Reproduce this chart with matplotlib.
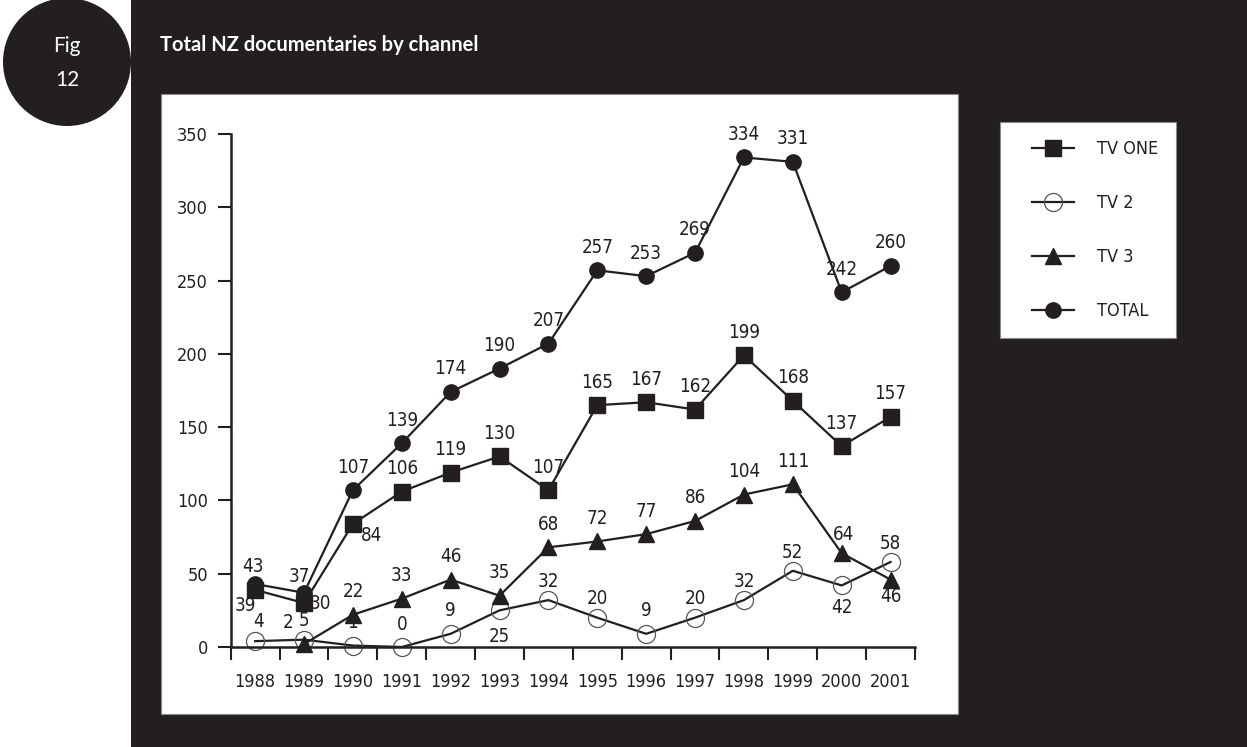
import matplotlib
matplotlib.use('Agg')
import matplotlib.pyplot as plt
from matplotlib.patches import Rectangle, Circle
import numpy as np

# Data
years = [str(y) for y in range(1988, 2002)]
tv_one = [39, 30, 84, 106, 119, 130, 107, 165, 167, 162, 199, 168, 137, 157]
tv_2 = [4, 5, 1, 0, 9, 25, 32, 20, 9, 20, 32, 52, 42, 58]
tv_3 = [np.nan, 2, 22, 33, 46, 35, 68, 72, 77, 86, 104, 111, 64, 46]
total = [43, 37, 107, 139, 174, 190, 207, 257, 253, 269, 334, 331, 242, 260]

# label offsets (pixels) that differ from the default "just above"
off_one = {0: (-10, -16), 1: (16, 0), 2: (19, -12)}
off_2 = {0: (3, 20), 1: (0, 19), 5: (0, -26), 6: (0, 19), 7: (0, 19), 9: (0, 19),
         10: (0, 19), 11: (0, 18), 12: (0, -22), 13: (0, 18)}
off_3 = {1: (-16, 22), 12: (2, 19), 13: (0, -17)}
off_total = {0: (-2, 17), 1: (-5, 16)}

DARK = '#231f20'
W, H = 1247, 747

plt.rcParams['font.family'] = ['Liberation Sans Narrow', 'DejaVu Sans']
plt.rcParams['font.stretch'] = 'condensed'

fig = plt.figure(figsize=(W / 100, H / 100), dpi=100)
fig.patch.set_facecolor('white')

def fy(y):
    return 1 - y / H

# dark page shape: strip + circle
fig.add_artist(Rectangle((131 / W, 0), 1 - 131 / W, 1, transform=fig.transFigure,
                         facecolor=DARK, edgecolor='none', zorder=-3))
fig.add_artist(Circle((0.67, (H - 62) / 100), 0.64, transform=fig.dpi_scale_trans,
                      facecolor=DARK, edgecolor='none', zorder=-3))
# white panels
fig.add_artist(Rectangle((161 / W, fy(714)), (958 - 161) / W, (714 - 94) / H,
                         transform=fig.transFigure, facecolor='white',
                         edgecolor='#8a8a8a', lw=0.8, zorder=-2))
fig.add_artist(Rectangle((1000 / W, fy(338)), 176 / W, (338 - 122) / H,
                         transform=fig.transFigure, facecolor='white',
                         edgecolor='#8a8a8a', lw=0.8, zorder=-2))

fig.text(67 / W, fy(46), 'Fig', color='white', fontsize=15, family='Lato',
         stretch='normal', ha='center', va='center')
fig.text(67 / W, fy(80), '12', color='white', fontsize=15, family='Lato',
         stretch='normal', ha='center', va='center')
fig.text(160 / W, fy(45), 'Total NZ documentaries by channel', color='white',
         fontsize=14.5, family='Lato', weight='bold', stretch='normal',
         ha='left', va='center')

ax = fig.add_axes([230.7 / W, fy(647), 684.3 / W, 513 / H])
ax.set_facecolor('none')
x = np.arange(len(years))

l1, = ax.plot(x, tv_one, marker='s', ms=11, color=DARK, lw=1.6, clip_on=False)
l2, = ax.plot(x, tv_2, marker='o', ms=13, mfc='none', mec='#555555', mew=0.9,
              color=DARK, lw=1.6, clip_on=False)
l3, = ax.plot(x, tv_3, marker='^', ms=12, color=DARK, lw=1.6, clip_on=False)
l4, = ax.plot(x, total, marker='o', ms=11, color=DARK, lw=1.6, clip_on=False)

for series, offs in [(tv_one, off_one), (tv_2, off_2), (tv_3, off_3), (total, off_total)]:
    for i, v in enumerate(series):
        if np.isnan(v):
            continue
        dx, dy = offs.get(i, (0, 23))
        ax.annotate(str(int(v)), (i, v), xytext=(dx, dy), textcoords='offset pixels',
                    ha='center', va='center', fontsize=13.5, color=DARK)

ax.set_xlim(-0.5, 13.5)
ax.set_ylim(0, 350)
for s in ['top', 'right']:
    ax.spines[s].set_visible(False)
for s in ['left', 'bottom']:
    ax.spines[s].set_linewidth(1.8)
    ax.spines[s].set_color(DARK)

ax.set_yticks(range(0, 351, 50))
ax.tick_params(axis='y', direction='out', length=9.4, width=1.5, pad=7,
               labelsize=13, colors=DARK)
ax.set_xticks(np.arange(-0.5, 14, 1))
ax.set_xticklabels([])
ax.set_xticks(x, minor=True)
ax.set_xticklabels(years, minor=True)
ax.tick_params(axis='x', which='major', direction='out', length=9.4, width=1.5, colors=DARK)
ax.tick_params(axis='x', which='minor', length=0, pad=19, labelsize=13, colors=DARK)

lax = fig.add_axes([1000 / W, fy(338), 176 / W, 216 / H])
lax.axis('off')
lax.legend([l1, l2, l3, l4], ['TV ONE', 'TV 2', 'TV 3', 'TOTAL'],
           loc='center left', bbox_to_anchor=(32 / 176, 0.5), frameon=False,
           fontsize=13, handlelength=2.3, handletextpad=1.3, labelspacing=2.0,
           borderpad=0, borderaxespad=0, labelcolor=DARK)

fig.savefig('out.png', dpi=100, facecolor='white')
